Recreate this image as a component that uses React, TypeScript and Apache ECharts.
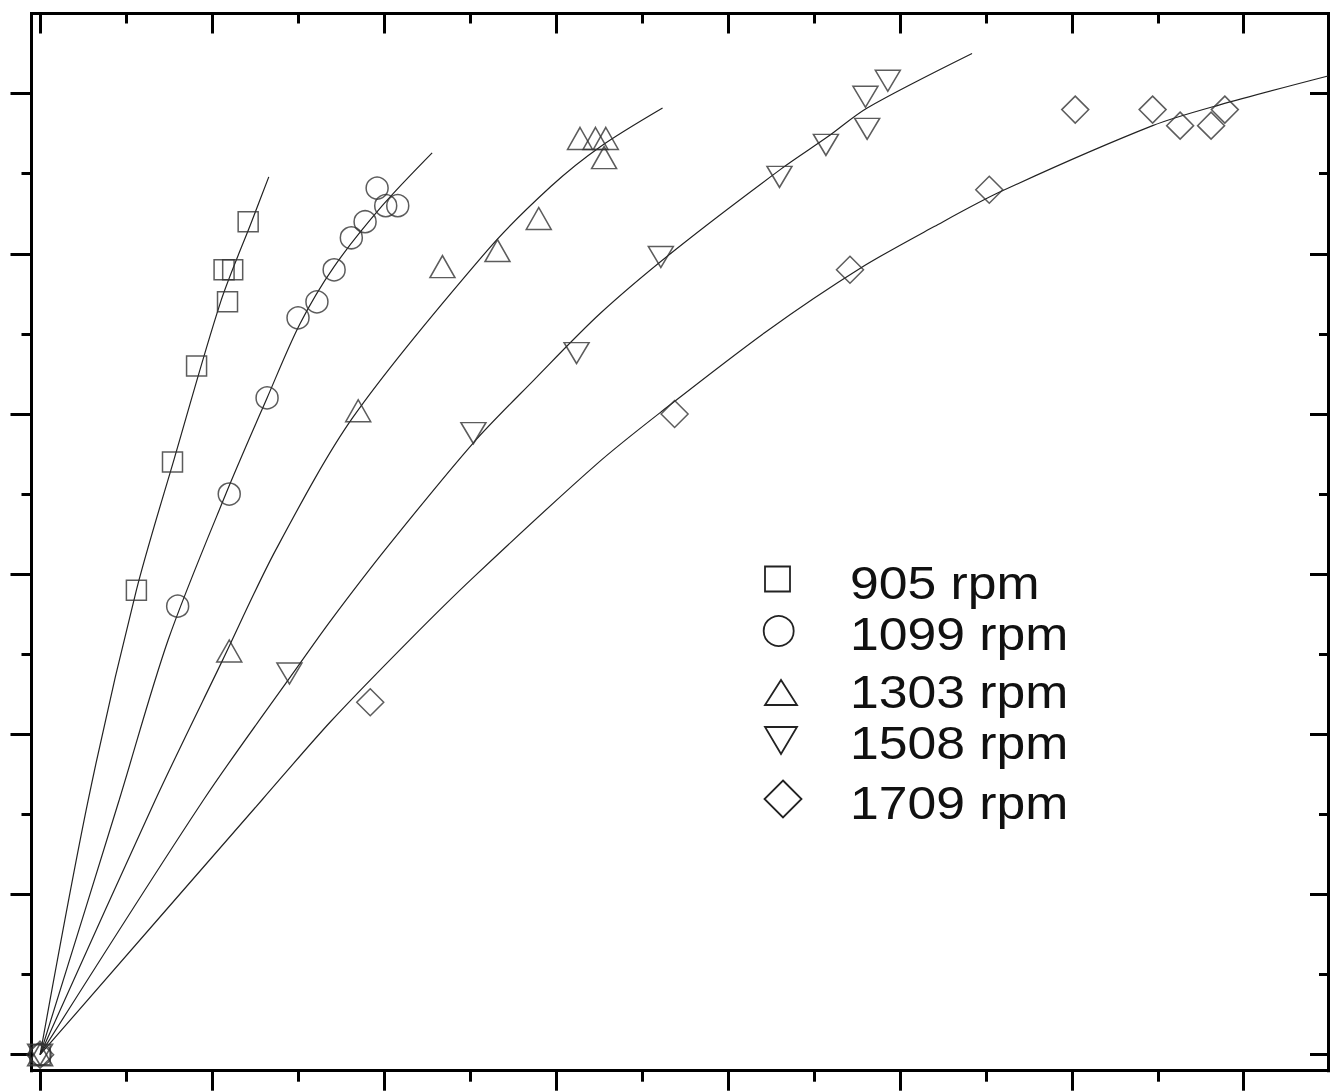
import React, { useEffect, useRef } from "react";
import * as echarts from "echarts";

// ---- data (x, y in axis units) ----
const seriesNames = ["905 rpm", "1099 rpm", "1303 rpm", "1508 rpm", "1709 rpm"];

const points905 = [[0, 0], [0.56, 2.9], [0.77, 3.7], [0.91, 4.3], [1.09, 4.7], [1.07, 4.9], [1.12, 4.9], [1.21, 5.2]];
const points1099 = [[0, 0], [0.8, 2.8], [1.1, 3.5], [1.32, 4.1], [1.5, 4.6], [1.61, 4.7], [1.71, 4.9], [1.81, 5.1], [1.89, 5.2], [1.96, 5.41], [2.01, 5.3], [2.08, 5.3]];
const points1303 = [[0, 0], [1.1, 2.52], [1.85, 4.02], [2.34, 4.92], [2.66, 5.02], [2.9, 5.22], [3.14, 5.72], [3.23, 5.72], [3.29, 5.72], [3.28, 5.6]];
const points1508 = [[0, 0], [1.45, 2.38], [2.52, 3.88], [3.12, 4.38], [3.61, 4.98], [4.3, 5.48], [4.57, 5.68], [4.8, 5.98], [4.81, 5.78], [4.93, 6.08]];
const points1709 = [[0, 0], [1.92, 2.2], [3.69, 4.0], [4.71, 4.9], [5.52, 5.4], [6.02, 5.9], [6.47, 5.9], [6.63, 5.8], [6.81, 5.8], [6.89, 5.9]];

// fitted curves
const fit905 = [[0, 0], [0.28, 1.59], [0.56, 2.9], [0.78, 3.72], [1.05, 4.7], [1.23, 5.2], [1.33, 5.48]];
const fit1099 = [[0, 0], [0.46, 1.59], [0.745, 2.59], [1.08, 3.5], [1.32, 4.1], [1.51, 4.56], [1.71, 4.92], [1.99, 5.3], [2.28, 5.63]];
const fit1303 = [[0, 0], [0.67, 1.59], [1.06, 2.46], [1.37, 3.15], [1.82, 3.98], [2.6, 5.02], [2.97, 5.42], [3.26, 5.67], [3.62, 5.91]];
const fit1508 = [[0, 0], [0.95, 1.59], [1.47, 2.38], [1.69, 2.71], [2.02, 3.17], [2.52, 3.82], [2.87, 4.21], [3.26, 4.63], [3.7, 5.03], [4.31, 5.53], [4.58, 5.73], [4.81, 5.91], [5.42, 6.25]];
const fit1709 = [[0, 0], [1.29, 1.59], [1.69, 2.08], [2.15, 2.59], [2.52, 2.98], [3.24, 3.69], [3.62, 4.02], [4.23, 4.52], [4.77, 4.91], [5.2, 5.17], [5.59, 5.39], [6.47, 5.8], [6.86, 5.93], [7.49, 6.11]];

const xMajorTicks = [0, 1, 2, 3, 4, 5, 6, 7];
const xMinorTicks = [0.5, 1.5, 2.5, 3.5, 4.5, 5.5, 6.5];
const yMajorTicks = [0, 1, 2, 3, 4, 5, 6];
const yMinorTicks = [0.5, 1.5, 2.5, 3.5, 4.5, 5.5];

const X_MIN = -0.05;
const X_MAX = 7.49;
const Y_MIN = -0.1;
const Y_MAX = 6.5;

const INK = "#000";
const MARK = "#333";
const CURVE = "#222";

function makeAxis(pos: string, ticks: number[], len: number, inside: boolean, showLine: boolean, min: number, max: number) {
  return {
    type: "value",
    position: pos,
    min,
    max,
    axisLine: { show: showLine, onZero: false, lineStyle: { color: INK, width: 3, cap: "square" } },
    axisTick: { show: true, inside, length: len, customValues: ticks, lineStyle: { color: INK, width: 3 } },
    axisLabel: { show: false },
    splitLine: { show: false },
    minorTick: { show: false },
  };
}

export default function App() {
  const ref = useRef<HTMLDivElement>(null);
  useEffect(() => {
    document.body.style.margin = "0";
    const chart = echarts.init(ref.current!, null, { renderer: "svg" });
    const markStyle = { color: "rgba(0,0,0,0)", borderColor: MARK, borderWidth: 1.5 };
    const curve = (name: string, data: number[][]) => ({
      name,
      type: "line",
      data,
      smooth: 0.3,
      showSymbol: false,
      symbol: "none",
      silent: true,
      z: 1,
      lineStyle: { color: CURVE, width: 1.2 },
    });
    const scatter = (name: string, data: number[][], symbol: string, size: any, rotate = 0) => ({
      name,
      type: "scatter",
      data,
      symbol,
      symbolSize: size,
      symbolRotate: rotate,
      z: 3,
      itemStyle: markStyle,
    });
    const legendStyle = { fill: "none", stroke: "#222", lineWidth: 1.8 };
    const textStyle = (text: string) => ({
      text,
      fill: "#111",
      fontSize: 47,
      fontFamily: '"Liberation Sans", Arial, sans-serif',
      verticalAlign: "middle",
      textVerticalAlign: "middle",
    });
    const label = (text: string, y: number) => ({ type: "text", x: 850, y, scaleX: 1.1, style: textStyle(text) });
    chart.setOption({
      animation: false,
      backgroundColor: "#fff",
      grid: { left: 31.5, right: 4, top: 13.5, bottom: 20.3, containLabel: false },
      xAxis: [
        makeAxis("bottom", xMajorTicks, 20, false, true, X_MIN, X_MAX),
        makeAxis("bottom", xMinorTicks, 11, false, false, X_MIN, X_MAX),
        makeAxis("top", xMajorTicks, 20, true, true, X_MIN, X_MAX),
        makeAxis("top", xMinorTicks, 10, true, false, X_MIN, X_MAX),
      ],
      yAxis: [
        makeAxis("left", yMajorTicks, 21, false, true, Y_MIN, Y_MAX),
        makeAxis("left", yMinorTicks, 10, false, false, Y_MIN, Y_MAX),
        makeAxis("right", yMajorTicks, 18, true, true, Y_MIN, Y_MAX),
        makeAxis("right", yMinorTicks, 9, true, false, Y_MIN, Y_MAX),
      ],
      series: [
        curve("fit 905", fit905),
        curve("fit 1099", fit1099),
        curve("fit 1303", fit1303),
        curve("fit 1508", fit1508),
        curve("fit 1709", fit1709),
        scatter(seriesNames[0], points905, "rect", 20),
        scatter(seriesNames[1], points1099, "circle", 22),
        scatter(seriesNames[2], points1303, "triangle", [25, 22]),
        scatter(seriesNames[3], points1508, "triangle", [25, 21], 180),
        scatter(seriesNames[4], points1709, "diamond", [27, 27]),
      ],
      graphic: [
        { type: "rect", shape: { x: 765, y: 566.5, width: 25, height: 25 }, style: legendStyle },
        { type: "circle", shape: { cx: 778.7, cy: 631, r: 15 }, style: legendStyle },
        { type: "polygon", shape: { points: [[781, 680], [765, 705], [797, 705]] }, style: legendStyle },
        { type: "polygon", shape: { points: [[765, 727], [797, 727], [781, 754]] }, style: legendStyle },
        { type: "polygon", shape: { points: [[783, 780.5], [801.5, 799], [783, 817.5], [764.5, 799]] }, style: legendStyle },
        label(seriesNames[0], 582),
        label(seriesNames[1], 633),
        label(seriesNames[2], 691),
        label(seriesNames[3], 742),
        label(seriesNames[4], 802),
      ],
    });
    return () => chart.dispose();
  }, []);
  return <div ref={ref} style={{ width: 1332, height: 1091 }} />;
}
